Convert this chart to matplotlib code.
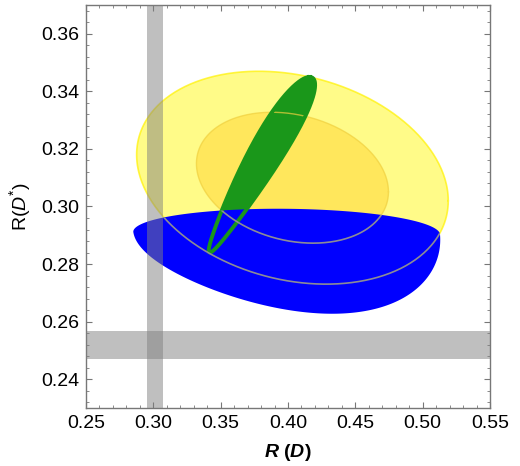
import numpy as np
import matplotlib
matplotlib.use("Agg")
import matplotlib.pyplot as plt
from matplotlib.patches import Polygon
from matplotlib.ticker import MultipleLocator

plt.rcParams['font.family'] = ['Liberation Sans', 'DejaVu Sans']
plt.rcParams['mathtext.fontset'] = 'custom'
plt.rcParams['mathtext.rm'] = 'Liberation Sans'
plt.rcParams['mathtext.it'] = 'Liberation Sans:italic'
plt.rcParams['mathtext.bf'] = 'Liberation Sans:bold'
plt.rcParams['mathtext.bfit'] = 'Liberation Sans:bold:italic'

# SM bands: centre, half width
rd_band = [0.3013, 0.0060]
rds_band = [0.2520, 0.0049]

# yellow fit: centre + (a, b, c) for x=cx+a*cos, y=cy+b*sin+c*cos
yellow_centre = [0.4033, 0.3100]
yellow_outer = [0.1157, 0.0361, -0.0080]
yellow_inner = [0.0713, 0.0222, -0.0049]

# blue region: centre, half width, top height, bottom depth, bottom skew, bottom shear, tilt
blue_centre = [0.3990, 0.2907]
blue_shape = [0.1139, 0.0085, 0.0270, 0.0070, 0.0060, -0.0005]

# green region: centre, half width, half height, slant, top widening
green_centre = [0.3790, 0.3145]
green_shape = [0.0132, 0.0305, 0.0370, 0.40]

xticks = [0.25, 0.30, 0.35, 0.40, 0.45, 0.50, 0.55]
yticks = [0.24, 0.26, 0.28, 0.30, 0.32, 0.34, 0.36]

t = np.linspace(0, 2*np.pi, 400)


def yellow_curve(p):
	a, b, c = p
	return np.column_stack([yellow_centre[0] + a*np.cos(t),
		yellow_centre[1] + b*np.sin(t) + c*np.cos(t)])


def blue_curve():
	a, bt, bb, k, sh, c = blue_shape
	cx, cy = blue_centre
	th = np.linspace(0, np.pi, 200)
	tb = np.linspace(np.pi, 2*np.pi, 200)
	sb = -np.sin(tb)
	x = np.concatenate([cx + a*np.cos(th), cx + a*np.cos(tb) + sh*sb])
	y = np.concatenate([cy + bt*np.sin(th) + c*np.cos(th),
		cy + c*np.cos(tb) - sb*(bb + k*np.cos(tb))])
	return np.column_stack([x, y])


def green_curve():
	a, b, d, e = green_shape
	return np.column_stack([green_centre[0] + a*np.sin(t)*(1 + e*np.cos(t)) + d*np.cos(t),
		green_centre[1] + b*np.cos(t)])


fig = plt.figure(figsize=(5.2, 4.66), dpi=100)
ax = fig.add_axes([0.1654, 0.1245, 0.7769, 0.8648])

outer = yellow_curve(yellow_outer)
inner = yellow_curve(yellow_inner)
green = green_curve()

ax.add_patch(Polygon(outer, closed=True, facecolor='#FFFB88', edgecolor='none', zorder=1))
ax.add_patch(Polygon(inner, closed=True, facecolor='#FFE75C', edgecolor='none', zorder=2))
ax.add_patch(Polygon(green, closed=True, facecolor='#1A971A', edgecolor='none', zorder=3))
# yellow contour lines
ax.plot(outer[:, 0], outer[:, 1], color='#FFF200', lw=1.2, alpha=0.7, zorder=3.5)
ax.plot(inner[:, 0], inner[:, 1], color='#F0D040', lw=1.0, alpha=0.7, zorder=3.5)

bp = Polygon(blue_curve(), closed=True, facecolor='#0000FF', edgecolor='none', zorder=4)
ax.add_patch(bp)

ax.plot(green[:, 0], green[:, 1], color='#1A971A', lw=2.8, zorder=5)

# contour lines seen through blue
for c in (outer, inner):
	ln, = ax.plot(c[:, 0], c[:, 1], color='#8C8C96', lw=1.2, zorder=6)
	ln.set_clip_path(bp)

ax.axvspan(rd_band[0] - rd_band[1], rd_band[0] + rd_band[1], color='#808080', alpha=0.5, lw=0, zorder=5.5)
ax.axhspan(rds_band[0] - rds_band[1], rds_band[0] + rds_band[1], color='#808080', alpha=0.5, lw=0, zorder=5.5)

ax.set_xlim(0.25, 0.55)
ax.set_ylim(0.23, 0.37)
ax.set_xticks(xticks)
ax.set_yticks(yticks)
ax.set_xticklabels(['%.2f' % v for v in xticks])
ax.set_yticklabels(['%.2f' % v for v in yticks])
ax.xaxis.set_minor_locator(MultipleLocator(0.01))
ax.yaxis.set_minor_locator(MultipleLocator(0.004))
ax.tick_params(which='both', direction='in', top=True, right=True, color='#777777', labelsize=14, pad=5)
ax.tick_params(which='major', length=4, width=0.8)
ax.tick_params(which='minor', length=2, width=0.6)
for s in ax.spines.values():
	s.set_color('#777777')
	s.set_linewidth(1.0)

ax.set_xlabel(r'$\mathbfit{R}\ \mathbf{(}\mathbfit{D}\mathbf{)}$', fontsize=14, labelpad=7)
ax.set_ylabel(r'R($\mathit{D}^{*}$)', fontsize=14, labelpad=6)

plt.savefig('out.png', dpi=100)
